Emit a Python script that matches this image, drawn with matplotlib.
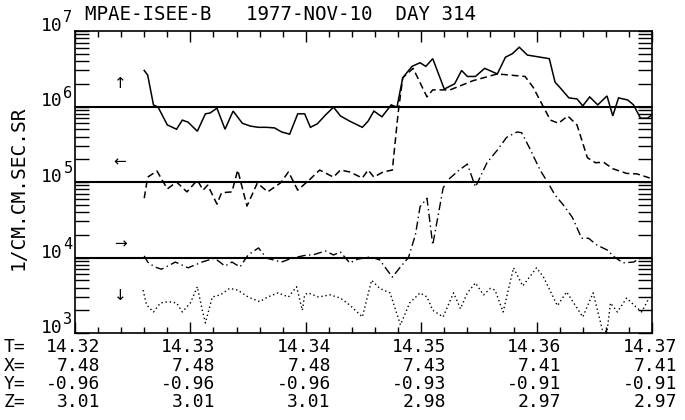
import numpy as np
import matplotlib
matplotlib.use("Agg")
import matplotlib.pyplot as plt
from matplotlib.ticker import FixedLocator, LogLocator, NullFormatter

plt.rcParams['font.family'] = ['DejaVu Sans Mono', 'DejaVu Sans']

# ── data (time in decimal hours, flux in 1/cm2 s sr) ─────────────────────────
t_up = [14.3260, 14.3263, 14.3268, 14.3272, 14.3280, 14.3288, 14.3293, 14.3298,
        14.3306, 14.3313, 14.3317, 14.3323, 14.3330, 14.3337, 14.3345, 14.3352,
        14.3359, 14.3366, 14.3373, 14.3379, 14.3386, 14.3393, 14.3399, 14.3404,
        14.3410, 14.3417, 14.3424, 14.3430, 14.3438, 14.3449, 14.3454, 14.3459,
        14.3466, 14.3474, 14.3479, 14.3484, 14.3492, 14.3499, 14.3504, 14.3510,
        14.3520, 14.3529, 14.3535, 14.3540, 14.3547, 14.3555, 14.3566, 14.3573,
        14.3579, 14.3585, 14.3592, 14.3611, 14.3616, 14.3620, 14.3628, 14.3635,
        14.3640, 14.3646, 14.3653, 14.3661, 14.3666, 14.3671, 14.3679, 14.3684,
        14.3690, 14.3696, 14.3700]
f_up = [3.0e6, 2.6e6, 1.05e6, 9.8e5, 5.7e5, 5.0e5, 6.6e5, 6.2e5,
        4.7e5, 8.0e5, 8.2e5, 9.5e5, 5.0e5, 8.7e5, 6.0e5, 5.5e5,
        5.3e5, 5.3e5, 5.2e5, 4.6e5, 4.3e5, 8.0e5, 8.0e5, 5.3e5,
        5.9e5, 7.7e5, 9.8e5, 7.5e5, 6.4e5, 5.3e5, 6.4e5, 8.7e5,
        7.3e5, 1.05e6, 9.8e5, 2.4e6, 3.4e6, 3.8e6, 3.4e6, 4.3e6,
        1.7e6, 2.0e6, 3.0e6, 2.5e6, 2.5e6, 3.2e6, 2.7e6, 4.5e6,
        5.0e6, 6.1e6, 4.8e6, 4.3e6, 2.1e6, 1.8e6, 1.3e6, 1.26e6,
        1.02e6, 1.34e6, 1.05e6, 1.38e6, 7.5e5, 1.3e6, 1.22e6, 1.05e6,
        7.0e5, 7.0e5, 7.7e5]

t_left = [14.3260, 14.3263, 14.3271, 14.3280, 14.3288, 14.3297, 14.3306, 14.3311,
          14.3315, 14.3323, 14.3327, 14.3336, 14.3341, 14.3349, 14.3358, 14.3367,
          14.3378, 14.3385, 14.3393, 14.3404, 14.3412, 14.3424, 14.3430, 14.3438,
          14.3449, 14.3454, 14.3459, 14.3467, 14.3475, 14.3480, 14.3484, 14.3493,
          14.3505, 14.3510, 14.3525, 14.3545, 14.3554, 14.3566, 14.3590, 14.3597,
          14.3606, 14.3612, 14.3619, 14.3627, 14.3635, 14.3644, 14.3651, 14.3658,
          14.3666, 14.3678, 14.3687, 14.3698]
f_left = [6.1e4, 1.16e5, 1.4e5, 8.1e4, 1.0e5, 7.4e4, 1.06e5, 7.8e4,
          9.1e4, 5.1e4, 7.2e4, 7.4e4, 1.44e5, 4.8e4, 9.7e4, 7.4e4,
          9.7e4, 1.36e5, 7.8e4, 1.1e5, 1.44e5, 1.16e5, 1.44e5, 1.36e5,
          1.13e5, 1.44e5, 1.16e5, 1.36e5, 1.44e5, 8.2e5, 2.4e6, 3.2e6,
          1.34e6, 1.66e6, 1.66e6, 2.2e6, 2.4e6, 2.7e6, 2.5e6, 1.8e6,
          9.8e5, 6.6e5, 6.0e5, 7.5e5, 5.7e5, 2.1e5, 1.8e5, 1.83e5,
          1.5e5, 1.3e5, 1.28e5, 1.13e5]

t_right = [14.3260, 14.3263, 14.3269, 14.3275, 14.3287, 14.3298, 14.3310, 14.3321,
           14.3330, 14.3336, 14.3343, 14.3350, 14.3359, 14.3366, 14.3379, 14.3388,
           14.3401, 14.3406, 14.3417, 14.3424, 14.3430, 14.3438, 14.3445, 14.3456,
           14.3464, 14.3475, 14.3482, 14.3489, 14.3495, 14.3499, 14.3505, 14.3510,
           14.3519, 14.3523, 14.3532, 14.3540, 14.3547, 14.3557, 14.3566, 14.3574,
           14.3583, 14.3587, 14.3594, 14.3603, 14.3610, 14.3616, 14.3623, 14.3631,
           14.3639, 14.3645, 14.3652, 14.3661, 14.3668, 14.3675, 14.3684, 14.3691,
           14.3698]
f_right = [1.05e4, 8.7e3, 7.5e3, 7.0e3, 8.7e3, 7.3e3, 8.7e3, 9.8e3,
           7.7e3, 8.7e3, 7.5e3, 1.08e4, 1.34e4, 9.8e3, 8.7e3, 9.8e3,
           1.08e4, 1.08e4, 1.22e4, 1.08e4, 1.18e4, 8.5e3, 9.5e3, 1.02e4,
           9.3e3, 5.5e3, 7.5e3, 1.0e4, 2.0e4, 4.7e4, 6.1e4, 1.47e4,
           8.3e4, 1.06e5, 1.4e5, 1.73e5, 8.6e4, 1.8e5, 2.65e5, 3.9e5,
           4.6e5, 4.5e5, 2.8e5, 1.44e5, 9.7e4, 6.7e4, 5.0e4, 3.4e4,
           1.8e4, 1.8e4, 1.47e4, 1.26e4, 1.0e4, 8.5e3, 8.7e3, 1.0e4,
           9.8e3]

t_down = [14.3259, 14.3262, 14.3268, 14.3274, 14.3281, 14.3288, 14.3293, 14.3300,
          14.3306, 14.3310, 14.3313, 14.3319, 14.3326, 14.3334, 14.3341, 14.3350,
          14.3360, 14.3367, 14.3376, 14.3385, 14.3392, 14.3397, 14.3399, 14.3402,
          14.3411, 14.3421, 14.3430, 14.3438, 14.3449, 14.3457, 14.3464, 14.3473,
          14.3482, 14.3490, 14.3499, 14.3505, 14.3510, 14.3519, 14.3528, 14.3534,
          14.3540, 14.3547, 14.3554, 14.3560, 14.3564, 14.3571, 14.3580, 14.3588,
          14.3600, 14.3606, 14.3618, 14.3626, 14.3640, 14.3649, 14.3657, 14.3661,
          14.3664, 14.3670, 14.3678, 14.3685, 14.3691, 14.3698]
f_down = [3.7e3, 2.35e3, 1.9e3, 2.5e3, 2.6e3, 2.5e3, 1.9e3, 2.5e3,
          4.1e3, 2.1e3, 1.36e3, 3.0e3, 3.2e3, 3.9e3, 3.7e3, 3.0e3,
          2.6e3, 3.0e3, 3.4e3, 3.0e3, 4.1e3, 2.0e3, 3.2e3, 3.4e3,
          3.0e3, 3.2e3, 2.9e3, 2.35e3, 1.63e3, 5.0e3, 3.9e3, 3.4e3,
          1.28e3, 2.5e3, 3.4e3, 3.0e3, 2.0e3, 1.63e3, 3.4e3, 2.1e3,
          3.4e3, 4.6e3, 3.2e3, 3.9e3, 3.7e3, 1.9e3, 7.3e3, 4.2e3,
          7.3e3, 5.5e3, 2.3e3, 3.5e3, 1.63e3, 3.4e3, 1.1e3, 1.03e3,
          2.5e3, 1.9e3, 2.9e3, 2.3e3, 1.9e3, 3.0e3]

ref_levels = [1e4, 1e5, 1e6]
arrow_labels = [("↑", 2.0e6), ("←", 1.85e5), ("→", 1.5e4), ("↓", 3.1e3)]

tick_times = [14.32, 14.33, 14.34, 14.35, 14.36, 14.37]
x_row = ["7.48", "7.48", "7.48", "7.43", "7.41", "7.41"]
y_row = ["-0.96", "-0.96", "-0.96", "-0.93", "-0.91", "-0.91"]
z_row = ["3.01", "3.01", "3.01", "2.98", "2.97", "2.97"]

title = "MPAE-ISEE-B   1977-NOV-10  DAY 314"
ylabel = "1/CM.CM.SEC.SR"

# ── figure ────────────────────────────────────────────────────────────────────
W, H = 685, 420
fig = plt.figure(figsize=(W / 100, H / 100), dpi=100)
L, R, T, B = 75, 652, 31, 333
ax = fig.add_axes([L / W, 1 - B / H, (R - L) / W, (B - T) / H])

ax.set_yscale('log')
ax.set_xlim(14.32, 14.37)
ax.set_ylim(1e3, 1e7)

for lev in ref_levels:
    ax.axhline(lev, color='black', lw=1.5, zorder=1)

ax.plot(t_up, f_up, color='black', lw=1.1, solid_joinstyle='miter')
ax.plot(t_left, f_left, color='black', lw=1.1, dashes=(4.5, 2.5))
ax.plot(t_right, f_right, color='black', lw=1.0, dashes=(6, 2.5, 1, 2.5))
ax.plot(t_down, f_down, color='black', lw=1.0, dashes=(1, 2))

for s, v in arrow_labels:
    ax.text(14.3239, v, s, fontsize=11, ha='center', va='center',
            family=['DejaVu Sans'])

# ticks
ax.xaxis.set_major_locator(FixedLocator(tick_times))
ax.xaxis.set_minor_locator(FixedLocator(np.arange(14.32, 14.3701, 0.002)))
ax.tick_params(axis='x', which='major', direction='in', length=8, width=1,
               top=True, bottom=True, labelbottom=False)
ax.tick_params(axis='x', which='minor', direction='in', length=4, width=1,
               top=True, bottom=True)
ax.yaxis.set_major_locator(LogLocator(base=10, numticks=10))
ax.yaxis.set_minor_locator(LogLocator(base=10, subs=np.arange(2, 10), numticks=20))
ax.yaxis.set_minor_formatter(NullFormatter())
ax.tick_params(axis='y', which='both', direction='in', length=10, width=1,
               left=True, right=True, labelleft=False)
for sp in ax.spines.values():
    sp.set_linewidth(1.2)

# y decade labels "10" + exponent
ytr = ax.get_yaxis_transform()
for e in range(3, 8):
    ax.text(-0.021, 10.0 ** e, "10", transform=ytr, ha='right', va='baseline',
            fontsize=13, clip_on=False)
    ax.text(-0.020, 10.0 ** e * 1.3, str(e), transform=ytr, ha='left',
            va='baseline', fontsize=11, clip_on=False)

fig.text(85 / W, 1 - 15 / H, title, fontsize=13.8, ha='left', va='center')
fig.text(18 / W, 1 - 188 / H, ylabel, fontsize=14, rotation=90,
         ha='center', va='center')

# bottom orbit table
rows = [("T=", [f"{t:.2f}" for t in tick_times], 347),
        ("X=", x_row, 366),
        ("Y=", y_row, 384),
        ("Z=", z_row, 402)]
for lab, vals, yp in rows:
    fig.text(4 / W, 1 - yp / H, lab, fontsize=13, ha='left', va='center')
    for tt, v in zip(tick_times, vals):
        xp = L + (tt - 14.32) / 0.05 * (R - L) + 25
        fig.text(xp / W, 1 - yp / H, v, fontsize=13, ha='right', va='center')

fig.savefig("out.png", dpi=100)
